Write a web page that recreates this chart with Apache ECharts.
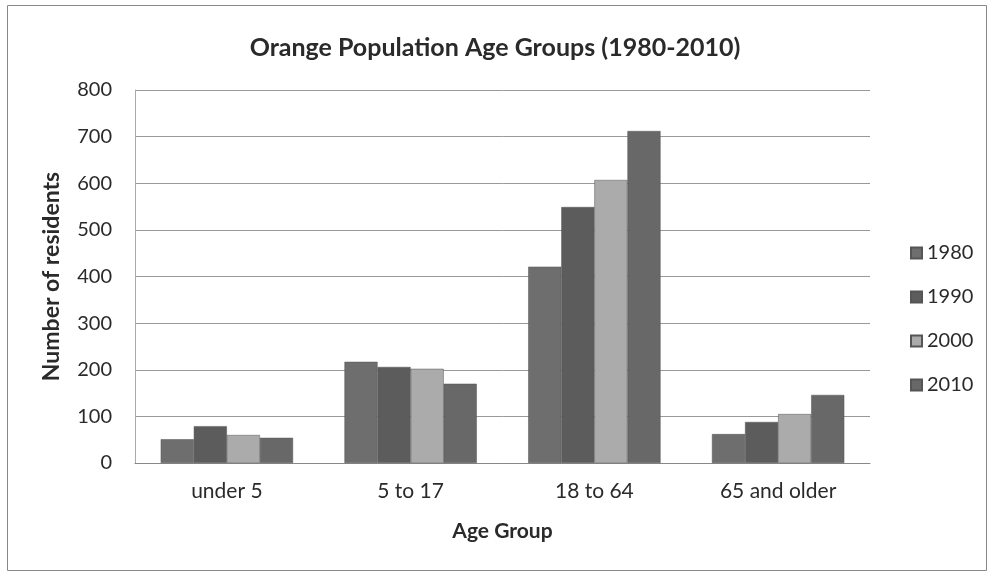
<!DOCTYPE html>
<html><head><meta charset="utf-8">
<script src="https://cdn.jsdelivr.net/npm/echarts@6/dist/echarts.min.js"></script>
<style>html,body{margin:0;padding:0;background:#fff}#c{width:990px;height:573px}</style>
</head><body><div id="c"></div>
<script>
const categories = ['under 5', '5 to 17', '18 to 64', '65 and older'];
const s1980 = [51, 217, 421, 62];
const s1990 = [79, 206, 549, 88];
const s2000 = [60, 202, 607, 105];
const s2010 = [54, 170, 712, 146];
const seriesNames = ['1980', '1990', '2000', '2010'];
const yTicks = [0, 100, 200, 300, 400, 500, 600, 700, 800];
const colors = ['#6e6e6e', '#5c5c5c', '#ababab', '#686868'];
const seriesData = [s1980, s1990, s2000, s2010];

const font = 'Lato, "Open Sans", sans-serif';
const chart = echarts.init(document.getElementById('c'));
chart.setOption({
  animation: false,
  backgroundColor: '#fff',
  title: {
    text: 'Orange Population Age Groups (1980-2010)',
    left: 'center', top: 30,
    textStyle: { fontFamily: font, fontSize: 25, fontWeight: 'bold', color: '#2a2a2a' }
  },
  legend: {
    orient: 'vertical', left: 905, top: 238,
    itemWidth: 11, itemHeight: 11, itemGap: 24,
    icon: 'rect',
    textStyle: { fontFamily: font, fontSize: 20, color: '#2a2a2a' },
    data: seriesNames
  },
  grid: { left: 135, right: 120, top: 90, bottom: 110 },
  xAxis: {
    type: 'category', data: categories,
    name: 'Age Group', nameLocation: 'middle', nameGap: 58,
    nameTextStyle: { fontFamily: font, fontSize: 21, fontWeight: 'bold', color: '#2a2a2a' },
    axisLine: { lineStyle: { color: '#888' } },
    axisTick: { show: false },
    axisLabel: { fontFamily: font, fontSize: 21, color: '#2a2a2a', margin: 18 }
  },
  yAxis: {
    type: 'value', min: yTicks[0], max: yTicks[yTicks.length - 1], interval: 100,
    name: 'Number of residents', nameLocation: 'middle', nameGap: 72, nameRotate: 90,
    nameTextStyle: { fontFamily: font, fontSize: 23, fontWeight: 'bold', color: '#2a2a2a' },
    axisLine: { show: true, lineStyle: { color: '#aaa' } },
    axisTick: { show: false },
    axisLabel: { fontFamily: font, fontSize: 20, color: '#2a2a2a', margin: 23 },
    splitLine: { lineStyle: { color: '#999', width: 1 } }
  },
  graphic: [{
    type: 'rect', left: 5, top: 3,
    shape: { width: 979, height: 565 },
    style: { fill: 'none', stroke: '#888', lineWidth: 1 },
    silent: true
  }],
  series: seriesNames.map((n, i) => ({
    name: n, type: 'bar', data: seriesData[i],
    barGap: '0%', barCategoryGap: '28%',
    itemStyle: { color: colors[i], borderColor: '#555', borderWidth: 0.5 }
  }))
});
</script></body></html>
